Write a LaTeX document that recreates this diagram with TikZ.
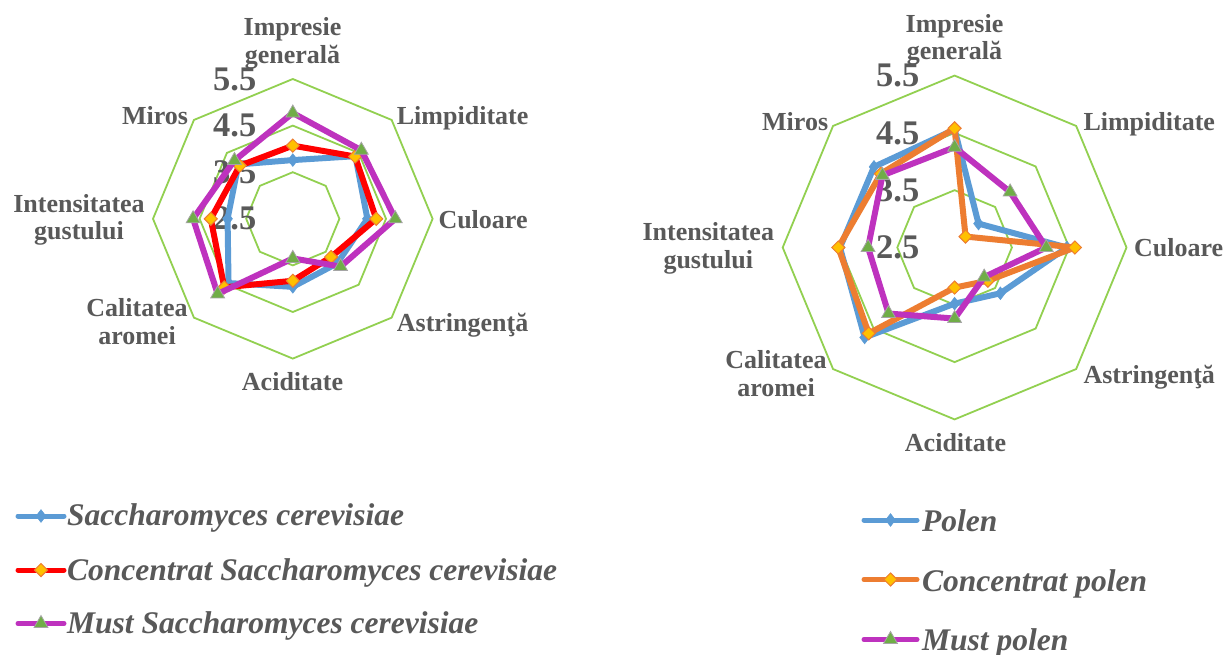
\documentclass[tikz,border=0pt]{standalone}
\usepackage{fontspec}
\setmainfont{Liberation Serif}
\usetikzlibrary{calc,shapes.geometric}
\definecolor{gridgreen}{HTML}{92D050}
\definecolor{txtgray}{HTML}{595959}
\definecolor{sblue}{HTML}{5B9BD5}
\definecolor{sred}{HTML}{FF0000}
\definecolor{spurple}{RGB}{190,50,190}
\definecolor{sorange}{HTML}{ED7D31}
\definecolor{mgold}{HTML}{FFC000}
\definecolor{mgreen}{HTML}{70AD47}
\definecolor{mgray}{HTML}{A5A5A5}
\newcommand\octagon[2]{\draw[gridline] ($(#1)+(90:#2)$) -- ($(#1)+(45:#2)$) -- ($(#1)+(0:#2)$) -- ($(#1)+(-45:#2)$) -- ($(#1)+(-90:#2)$) -- ($(#1)+(-135:#2)$) -- ($(#1)+(180:#2)$) -- ($(#1)+(135:#2)$) -- cycle;}
\newcommand\radarseries[6]{%
  \foreach \v [count=\i from 0] in {#4}{%
    \coordinate (#1\i) at ($(#2)+({90-45*\i}:{(\v-2.5)*#3})$);}
  \draw[serie,draw=#5] (#10) -- (#11) -- (#12) -- (#13) -- (#14) -- (#15) -- (#16) -- (#17) -- cycle;
  \foreach \k in {0,...,7}{\node[#6] (#1m\k) at (#1\k) {};}
}
\begin{document}
\begin{tikzpicture}[x=1pt,y=-1pt,
 catlbl/.style={font=\fontsize{26}{27}\selectfont\bfseries, text=txtgray, inner sep=0pt},
 vallbl/.style={font=\fontsize{34.5}{36}\selectfont\bfseries, text=txtgray, inner sep=0pt, anchor=east},
 leglbl/.style={font=\fontsize{31.5}{33}\selectfont\bfseries\itshape, text=txtgray, inner sep=0pt, anchor=base west},
 gridline/.style={draw=gridgreen, line width=1.8pt, line join=miter},
 serie/.style={line width=6pt, line join=round, line cap=round},
 mblue/.style={diamond, fill=sblue, draw=sblue, line width=0.5pt, inner sep=0pt, minimum width=10pt, minimum height=13pt},
 mdia/.style={diamond, fill=mgold, draw=sorange, line width=1pt, inner sep=0pt, minimum size=13.5pt},
 mtri/.style={regular polygon, regular polygon sides=3, fill=mgreen, draw=mgray, line width=0.8pt, inner sep=0pt, minimum size=16pt},
 legline/.style={line width=5pt, line cap=round}]
\useasboundingbox (0,0) rectangle (1226,655);
\fill[white] (0,0) rectangle (1226,655);

% ---------- left chart ----------
\coordinate (CL) at (292.8,218.8);
\octagon{CL}{46.6pt}
\octagon{CL}{93.2pt}
\octagon{CL}{139.8pt}
\foreach \t [count=\k from 0] in {2.5,3.5,4.5,5.5}{
  \node[vallbl] (Lval\k) at (256.5,{218.8-\k*46.6}) {\t};}
\radarseries{Lb}{CL}{46.6pt}{3.76,4.40,4.10,3.85,3.96,4.45,3.90,4.15}{sblue}{mblue}
\radarseries{Lr}{CL}{46.6pt}{4.07,4.39,4.29,3.66,3.83,4.58,4.26,4.11}{sred}{mdia}
\radarseries{Lp}{CL}{46.6pt}{4.77,4.58,4.70,3.95,3.35,4.78,4.64,4.27}{spurple}{mtri}

\node[catlbl, anchor=base] (Limp1) at (292.5,36) {Impresie};
\node[catlbl, anchor=base] (Limp2) at (292.5,63.3) {generală};
\node[catlbl, anchor=base west] (Llim) at (396.7,125) {Limpiditate};
\node[catlbl, anchor=base west] (Lcul) at (438.3,228.3) {Culoare};
\node[catlbl, anchor=base west] (Last) at (396.7,331.7) {Astringenţă};
\node[catlbl, anchor=base] (Laci) at (292.5,390) {Aciditate};
\node[catlbl, anchor=base] (Lcal1) at (137,316.7) {Calitatea};
\node[catlbl, anchor=base] (Lcal2) at (137,344) {aromei};
\node[catlbl, anchor=base] (Lint1) at (79,212.7) {Intensitatea};
\node[catlbl, anchor=base] (Lint2) at (79,240) {gustului};
\node[catlbl, anchor=base east] (Lmir) at (188.3,125) {Miros};

% ---------- right chart ----------
\coordinate (CR) at (954.6,247.5);
\octagon{CR}{57.3pt}
\octagon{CR}{114.6pt}
\octagon{CR}{171.9pt}
\foreach \t [count=\k from 0] in {2.5,3.5,4.5,5.5}{
  \node[vallbl] (Rval\k) at (919.5,{247.5-\k*57.3}) {\t};}
\radarseries{Rb}{CR}{57.3pt}{4.56,3.09,4.46,3.63,3.48,4.72,4.50,4.49}{sblue}{mblue}
\radarseries{Ro}{CR}{57.3pt}{4.58,2.77,4.60,3.32,3.20,4.62,4.53,4.32}{sorange}{mdia}
\radarseries{Rp}{CR}{57.3pt}{4.25,3.87,4.10,3.23,3.74,4.13,4.01,4.28}{spurple}{mtri}

\node[catlbl, anchor=base] (Rimp1) at (954.5,32.3) {Impresie};
\node[catlbl, anchor=base] (Rimp2) at (954.5,60) {generală};
\node[catlbl, anchor=base west] (Rlim) at (1083.3,130.7) {Limpiditate};
\node[catlbl, anchor=base west] (Rcul) at (1134,256.7) {Culoare};
\node[catlbl, anchor=base west] (Rast) at (1083.3,383.3) {Astringenţă};
\node[catlbl, anchor=base] (Raci) at (955.5,451.7) {Aciditate};
\node[catlbl, anchor=base] (Rcal1) at (776,368.3) {Calitatea};
\node[catlbl, anchor=base] (Rcal2) at (776,396) {aromei};
\node[catlbl, anchor=base] (Rint1) at (708.3,240.7) {Intensitatea};
\node[catlbl, anchor=base] (Rint2) at (708.3,268.5) {gustului};
\node[catlbl, anchor=base east] (Rmir) at (828.3,130.7) {Miros};

% ---------- legends ----------
\coordinate (LgA1) at (18,516);  \coordinate (LgA2) at (64,516);
\coordinate (LgB1) at (18,570);  \coordinate (LgB2) at (64,570);
\coordinate (LgC1) at (18,623.5);\coordinate (LgC2) at (64,623.5);
\draw[legline,sblue] (LgA1) -- (LgA2);
\node[mblue] (LgAm) at ($(LgA1)!0.5!(LgA2)$) {};
\draw[legline,sred] (LgB1) -- (LgB2);
\node[mdia] (LgBm) at ($(LgB1)!0.5!(LgB2)$) {};
\draw[legline,spurple] (LgC1) -- (LgC2);
\node[mtri] (LgCm) at ($(LgC1)!0.5!(LgC2)$) {};
\node[leglbl] (LgAt) at (67,525) {Saccharomyces cerevisiae};
\node[leglbl] (LgBt) at (67,580) {Concentrat Saccharomyces cerevisiae};
\node[leglbl] (LgCt) at (67,633) {Must Saccharomyces cerevisiae};

\coordinate (RgA1) at (864,520);  \coordinate (RgA2) at (917,520);
\coordinate (RgB1) at (864,579.5);\coordinate (RgB2) at (917,579.5);
\coordinate (RgC1) at (864,639.5);\coordinate (RgC2) at (917,639.5);
\draw[legline,sblue] (RgA1) -- (RgA2);
\node[mblue] (RgAm) at ($(RgA1)!0.5!(RgA2)$) {};
\draw[legline,sorange] (RgB1) -- (RgB2);
\node[mdia] (RgBm) at ($(RgB1)!0.5!(RgB2)$) {};
\draw[legline,spurple] (RgC1) -- (RgC2);
\node[mtri] (RgCm) at ($(RgC1)!0.5!(RgC2)$) {};
\node[leglbl] (RgAt) at (922,531.5) {Polen};
\node[leglbl] (RgBt) at (922,591.5) {Concentrat polen};
\node[leglbl] (RgCt) at (922,650.5) {Must polen};
\end{tikzpicture}
\end{document}
